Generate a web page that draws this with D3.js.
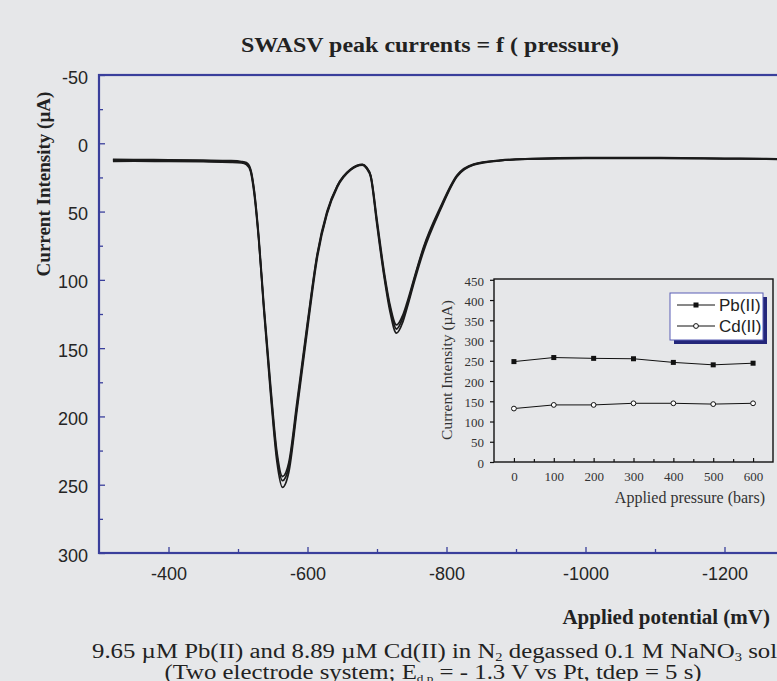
<!DOCTYPE html>
<html>
<head>
<meta charset="utf-8">
<script src="https://d3js.org/d3.v7.min.js"></script>
<style>
  body { margin: 0; background: #e6e7e9; }
  svg { display: block; }
</style>
</head>
<body>
<script>
// main voltammograms (mV, µA) - several overlapping runs
var potential = [-320,-350,-400,-450,-490,-505,-512,-518,-523,-530,-537,-547,-556,-564,-573,-585,-600,-614,-628,-643,-662,-679,-685,-691,-700,-710,-719,-728,-737,-743,-755,-767,-791,-815,-839,-878,-920,-1000,-1100,-1200,-1260,-1300];
var run1 = [12.4,12.4,12.6,12.9,13.3,13.8,14.8,19.5,34,71,121,184,233,252,241,195,136,84,52,32,19.6,16,18.5,25,60,97,124,139,131,121,99,79,49,24.5,15.8,12.7,11.6,11,11,11.4,11.6,12];
var run2 = [13.2,13.1,13.3,13.5,13.9,14.4,15.6,20.5,36,72,119,181,229,247,237,192,133,82,51,31,19.2,15.6,18,24,58,95,121,136,128,119,97,77,48,24,15.6,12.6,11.5,10.8,10.8,11.2,11.4,11.8];
var run3 = [11.8,11.9,12.1,12.4,12.8,13.4,14.2,18.8,33,69,117,178,226,244,234,189,131,81,50,31,19,15.5,17.6,23.5,56,93,119,133,126,117,96,76,47,23.5,15.3,12.4,11.3,10.6,10.6,11,11.2,11.6];
var yTicks = [-50,0,50,100,150,200,250,300];
var xTicks = [-400,-600,-800,-1000,-1200];

// inset: peak currents vs pressure
var pressure = [0,100,200,300,400,500,600];
var pbPeak = [248,258,256,255,246,240,244];
var cdPeak = [132,141,141,145,145,143,145];
var insetYTicks = [0,50,100,150,200,250,300,350,400,450];
var insetXTicks = [0,100,200,300,400,500,600];

var W = 777, H = 681;
var blue = "#3a3f9c";
var sx = 1.09; // serif texts in the picture are a little wide

var svg = d3.select("body").append("svg")
    .attr("width", W)
    .attr("height", H);

var x = d3.scaleLinear().domain([-300, -1300]).range([99, 794]);
var y = d3.scaleLinear().domain([-50, 300]).range([75, 553]);

svg.append("text")
    .attr("transform", "translate(430,52) scale(" + sx + ",1)")
    .attr("text-anchor", "middle")
    .attr("font-family", "Liberation Serif")
    .attr("font-weight", "bold")
    .attr("font-size", "22px")
    .attr("fill", "#222")
    .text("SWASV peak currents = f ( pressure)");

// curves
var line = d3.line()
    .x(function (d) { return x(d[0]); })
    .y(function (d) { return y(d[1]); })
    .curve(d3.curveMonotoneX);

[run1, run2, run3].forEach(function (run) {
  svg.append("path")
      .datum(potential.map(function (p, i) { return [p, run[i]]; }))
      .attr("d", line)
      .attr("fill", "none")
      .attr("stroke", "#1b1b1b")
      .attr("stroke-width", 1.8);
});

// frame
svg.append("rect")
    .attr("x", x(-300)).attr("y", y(-50))
    .attr("width", x(-1300) - x(-300))
    .attr("height", y(300) - y(-50))
    .attr("fill", "none")
    .attr("stroke", blue)
    .attr("stroke-width", 2.2);

var fmt = function (d) { return String(d); };
var yAxis = d3.axisLeft(y).tickValues(yTicks).tickSize(-6).tickPadding(11).tickFormat(fmt);
var yMinor = d3.axisLeft(y).tickValues(d3.range(-25, 300, 50)).tickSize(-4).tickFormat("");
var xAxis = d3.axisBottom(x).tickValues(xTicks).tickSize(-6).tickPadding(14).tickFormat(fmt);
var xMinor = d3.axisBottom(x).tickValues(d3.range(-500, -1300, -200)).tickSize(-4).tickFormat("");

function styleAxis(g) {
  g.select(".domain").remove();
  g.selectAll("line").attr("stroke", blue).attr("stroke-width", 1.3);
  g.selectAll("text")
      .attr("font-family", "Liberation Sans")
      .attr("font-size", "18px")
      .attr("fill", "#252525");
}

svg.append("g").attr("transform", "translate(" + x(-300) + ",0)").call(yAxis).call(styleAxis)
    .selectAll("text").attr("dy", "0.45em");
svg.append("g").attr("transform", "translate(" + x(-300) + ",0)").call(yMinor).call(styleAxis);
svg.append("g").attr("transform", "translate(0," + y(300) + ")").call(xAxis).call(styleAxis);
svg.append("g").attr("transform", "translate(0," + y(300) + ")").call(xMinor).call(styleAxis);

svg.append("text")
    .attr("transform", "translate(50,184) rotate(-90)")
    .attr("text-anchor", "middle")
    .attr("font-family", "Liberation Serif")
    .attr("font-weight", "bold")
    .attr("font-size", "19px")
    .attr("fill", "#222")
    .text("Current Intensity (µA)");

svg.append("text")
    .attr("transform", "translate(770,624) scale(1.05,1)")
    .attr("text-anchor", "end")
    .attr("font-family", "Liberation Serif")
    .attr("font-weight", "bold")
    .attr("font-size", "20px")
    .attr("fill", "#222")
    .text("Applied potential (mV)");

// caption
var cap1 = svg.append("text")
    .attr("transform", "translate(92,658) scale(1.21,1)")
    .attr("font-family", "Liberation Serif")
    .attr("font-size", "20.5px")
    .attr("fill", "#222");
cap1.append("tspan").text("9.65 µM Pb(II) and 8.89 µM Cd(II) in N");
cap1.append("tspan").attr("font-size", "12px").attr("dy", 3).text("2");
cap1.append("tspan").attr("dy", -3).text(" degassed 0.1 M NaNO");
cap1.append("tspan").attr("font-size", "12px").attr("dy", 3).text("3");
cap1.append("tspan").attr("dy", -3).text(" solution");

var cap2 = svg.append("text")
    .attr("transform", "translate(433,679) scale(1.21,1)")
    .attr("text-anchor", "middle")
    .attr("font-family", "Liberation Serif")
    .attr("font-size", "20.5px")
    .attr("fill", "#222");
cap2.append("tspan").text("(Two electrode system; E");
cap2.append("tspan").attr("font-size", "11px").attr("dy", 3).text("d,p");
cap2.append("tspan").attr("dy", -3).text(" = - 1.3 V vs Pt, tdep = 5 s)");

// inset
var ix = d3.scaleLinear().domain([-50, 650]).range([494, 773]);
var iy = d3.scaleLinear().domain([0, 452]).range([462, 279]);

svg.append("rect")
    .attr("x", 494).attr("y", 279)
    .attr("width", 279).attr("height", 183)
    .attr("fill", "none")
    .attr("stroke", "#111")
    .attr("stroke-width", 1.4);

function styleInset(g) {
  g.select(".domain").remove();
  g.selectAll("line").attr("stroke", "#111").attr("stroke-width", 1.2);
  g.selectAll("text")
      .attr("font-family", "Liberation Serif")
      .attr("font-size", "13px")
      .attr("fill", "#333");
}

svg.append("g").attr("transform", "translate(494,0)")
    .call(d3.axisLeft(iy).tickValues(insetYTicks).tickSize(4).tickPadding(6))
    .call(styleInset)
    .selectAll("text").attr("dy", "0.4em");
svg.append("g").attr("transform", "translate(0,462)")
    .call(d3.axisBottom(ix).tickValues(insetXTicks).tickSize(-4).tickPadding(10))
    .call(styleInset);
svg.append("g").attr("transform", "translate(0,462)")
    .call(d3.axisBottom(ix).tickValues(d3.range(50, 650, 100)).tickSize(-3).tickFormat(""))
    .call(styleInset);

var iline = d3.line()
    .x(function (d) { return ix(d[0]); })
    .y(function (d) { return iy(d[1]); });

var pbData = pressure.map(function (p, i) { return [p, pbPeak[i]]; });
var cdData = pressure.map(function (p, i) { return [p, cdPeak[i]]; });

svg.append("path").datum(pbData).attr("d", iline)
    .attr("fill", "none").attr("stroke", "#111").attr("stroke-width", 1);
svg.append("path").datum(cdData).attr("d", iline)
    .attr("fill", "none").attr("stroke", "#111").attr("stroke-width", 1);

svg.selectAll(".pb").data(pbData).enter().append("rect")
    .attr("x", function (d) { return ix(d[0]) - 2.5; })
    .attr("y", function (d) { return iy(d[1]) - 2.5; })
    .attr("width", 5).attr("height", 5)
    .attr("fill", "#111");
svg.selectAll(".cd").data(cdData).enter().append("circle")
    .attr("cx", function (d) { return ix(d[0]); })
    .attr("cy", function (d) { return iy(d[1]); })
    .attr("r", 2.4)
    .attr("fill", "#fff")
    .attr("stroke", "#111")
    .attr("stroke-width", 1);

svg.append("text")
    .attr("transform", "translate(452,370) rotate(-90)")
    .attr("text-anchor", "middle")
    .attr("font-family", "Liberation Serif")
    .attr("font-size", "15.5px")
    .attr("fill", "#333")
    .text("Current Intensity (µA)");

svg.append("text")
    .attr("x", 765).attr("y", 503)
    .attr("text-anchor", "end")
    .attr("font-family", "Liberation Serif")
    .attr("font-size", "16px")
    .attr("fill", "#333")
    .text("Applied pressure (bars)");

// legend
svg.append("rect")
    .attr("x", 674).attr("y", 297)
    .attr("width", 93).attr("height", 47)
    .attr("fill", "#23267a");
svg.append("rect")
    .attr("x", 670).attr("y", 293)
    .attr("width", 93).attr("height", 47)
    .attr("fill", "#fff")
    .attr("stroke", "#5a5fb5")
    .attr("stroke-width", 1);

var legend = [["Pb(II)", 305, "sq"], ["Cd(II)", 326, "ci"]];
legend.forEach(function (l) {
  svg.append("line")
      .attr("x1", 677).attr("x2", 715)
      .attr("y1", l[1]).attr("y2", l[1])
      .attr("stroke", "#111").attr("stroke-width", 1);
  if (l[2] == "sq") {
    svg.append("rect").attr("x", 693.5).attr("y", l[1] - 2.5)
        .attr("width", 5).attr("height", 5).attr("fill", "#111");
  } else {
    svg.append("circle").attr("cx", 696).attr("cy", l[1]).attr("r", 2.4)
        .attr("fill", "#fff").attr("stroke", "#111");
  }
  svg.append("text")
      .attr("x", 719).attr("y", l[1] + 6)
      .attr("font-family", "Liberation Sans")
      .attr("font-size", "17px")
      .attr("fill", "#222")
      .text(l[0]);
});
</script>
</body>
</html>
